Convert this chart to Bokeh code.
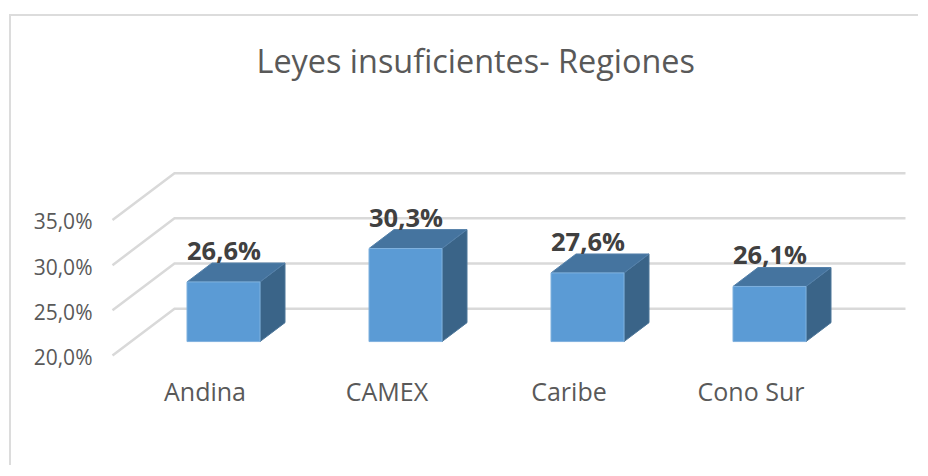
from bokeh.plotting import figure
from bokeh.models import ColumnDataSource, Range1d, LinearAxis, FixedTicker, Title
from bokeh.core.properties import value
from bokeh.embed import file_html
from bokeh.resources import INLINE

categories = ["Andina", "CAMEX", "Caribe", "Cono Sur"]
values = [26.6, 30.3, 27.6, 26.1]
value_labels = ["26,6%", "30,3%", "27,6%", "26,1%"]
ticks = [20, 25, 30, 35]
tick_labels = ["20,0%", "25,0%", "30,0%", "35,0%"]
title_text = "Leyes insuficientes- Regiones"

FONT = "Open Sans"
BASE = 20.0
W, H = 909, 451
F_L, F_R, F_T, F_B = 100, 920, 100, 362   # frame, page pixels
PX_X, PX_Y = 182.0, 9.07                  # pixels per category / per percent
X0, Y20 = 223.0, 342.0                    # page pixel of first bar centre / bar base

x_range = Range1d((F_L - X0) / PX_X, (F_R - X0) / PX_X)
y_range = Range1d(BASE - (F_B - Y20) / PX_Y, BASE + (Y20 - F_T) / PX_Y)

p = figure(width=W, height=H, output_backend="svg", toolbar_location=None,
           x_range=x_range, y_range=y_range, x_axis_type=None, y_axis_type=None,
           min_border_left=F_L - 11, min_border_right=0,
           min_border_top=F_T - 16, min_border_bottom=468 - F_B,
           outline_line_color=None, background_fill_color="white",
           border_fill_color="white", tools="")
p.grid.visible = False
p.styles = {"margin": "14px 0 0 9px", "border-left": "2px solid #dcdcdc",
            "border-top": "2px solid #dcdcdc"}

t = Title(text=title_text, text_font=FONT, text_font_size="32.4px", text_font_style="normal",
          text_color="#595959", align="left", offset=156, standoff=38)
p.add_layout(t, "above")

# axes: tick labels follow the front edge of the 3D wall
front_shift = 15.5 / PX_Y
p.extra_y_ranges["front"] = Range1d(y_range.start + front_shift, y_range.end + front_shift)
ya = LinearAxis(y_range_name="front", ticker=FixedTicker(ticks=ticks),
                major_label_overrides={t_: l for t_, l in zip(ticks, tick_labels)},
                axis_line_color=None, major_tick_line_color=None, minor_tick_line_color=None,
                major_label_text_font=FONT, major_label_text_font_size="21px",
                major_label_text_color="#595959", major_label_standoff=2)
p.add_layout(ya, "left")

cat_shift = 18.5 / PX_X
p.extra_x_ranges["cat"] = Range1d(x_range.start + cat_shift, x_range.end + cat_shift)
xa = LinearAxis(x_range_name="cat", ticker=FixedTicker(ticks=list(range(len(categories)))),
                major_label_overrides={i: c for i, c in enumerate(categories)},
                axis_line_color=None, major_tick_line_color=None, minor_tick_line_color=None,
                major_label_text_font=FONT, major_label_text_font_size="25px",
                major_label_text_color="#595959", major_label_standoff=6)
p.add_layout(xa, "below")

# gridlines: wall diagonal + back wall
x_front, x_back, x_end = (112 - X0) / PX_X, (174 - X0) / PX_X, (905 - X0) / PX_X
back_up = (Y20 - 309) / PX_Y
wall_drop = 14 / PX_Y
xs_g = [[x_front, x_back, x_end] for _ in ticks]
ys_g = [[v - wall_drop, v + back_up, v + back_up] for v in ticks]
p.multi_line(xs_g, ys_g, line_color="#d9d9d9", line_width=2.5, line_join="miter")

# bars
half = 36.5 / PX_X
dx, dy = 25 / PX_X, 19 / PX_Y
n = range(len(values))
side = ColumnDataSource(dict(
    xs=[[i + half, i + half + dx, i + half + dx, i + half] for i in n],
    ys=[[BASE, BASE + dy, values[i] + dy, values[i]] for i in n]))
top = ColumnDataSource(dict(
    xs=[[i - half, i - half + dx, i + half + dx, i + half] for i in n],
    ys=[[values[i], values[i] + dy, values[i] + dy, values[i]] for i in n]))
p.patches("xs", "ys", source=side, fill_color="#3a6488", line_color="#4d7699", line_width=1)
p.patches("xs", "ys", source=top, fill_color="#45749f", line_color="#5581aa", line_width=1)
p.quad(left=[i - half for i in n], right=[i + half for i in n], bottom=[BASE] * len(values),
       top=values, fill_color="#5b9bd5", line_color="#7fb1de", line_width=1)

# value labels
p.text(x=[i - half for i in n], y=values, text=value_labels, text_font=value(FONT),
       text_font_size="25.5px", text_font_style="bold", text_color="#404040",
       text_align="left", text_baseline="alphabetic", y_offset=-32)

open("out.html", "w").write(file_html(p, INLINE))
